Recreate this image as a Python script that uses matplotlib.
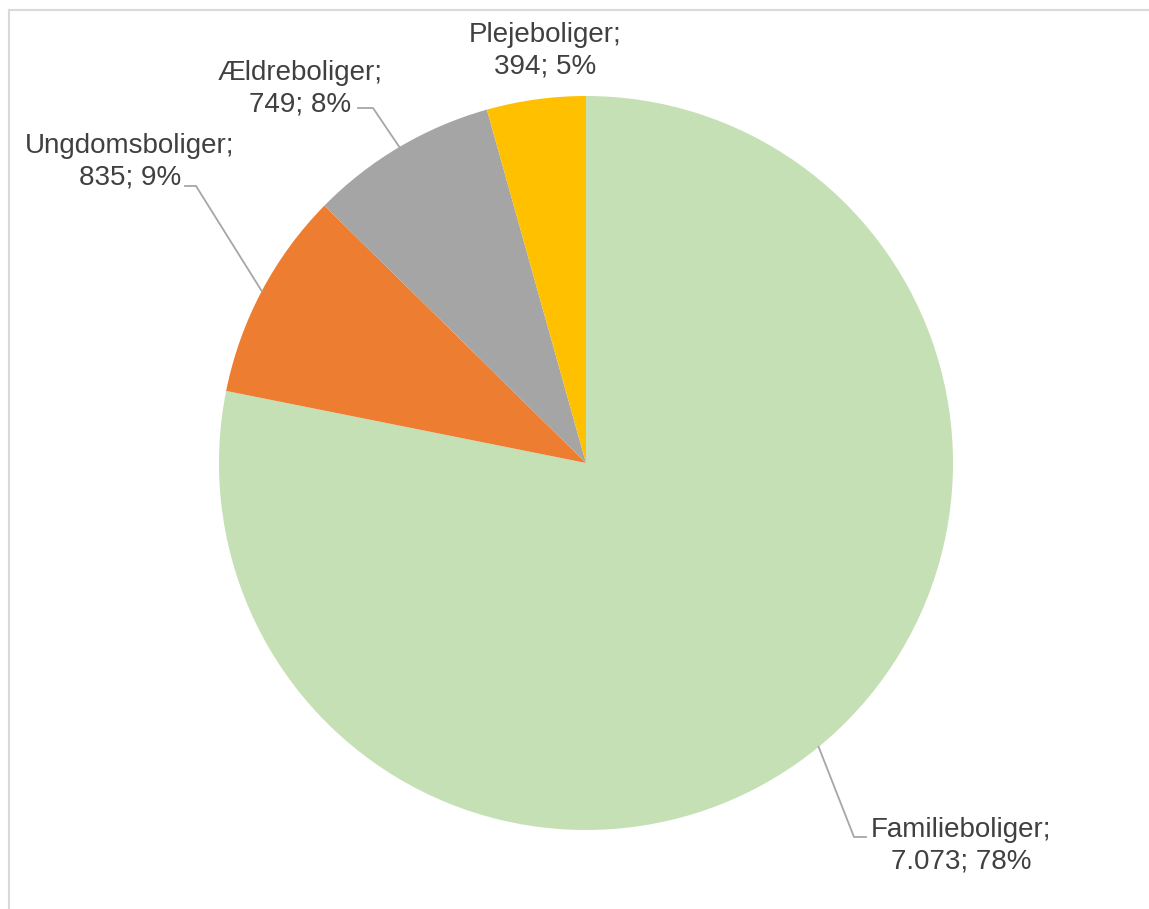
import numpy as np
import matplotlib
matplotlib.use("Agg")
import matplotlib.pyplot as plt
from matplotlib.lines import Line2D

# data
categories = ["Familieboliger", "Ungdomsboliger", "Ældreboliger", "Plejeboliger"]
values = [7073, 835, 749, 394]
value_labels = ["7.073", "835", "749", "394"]
percents = [78, 9, 8, 5]
colors = ["#C5E0B4", "#ED7D31", "#A5A5A5", "#FFC000"]

W, H = 1149, 909
plt.rcParams["font.family"] = ["Liberation Sans", "DejaVu Sans"]

fig = plt.figure(figsize=(W / 100, H / 100), dpi=100)
ax = fig.add_axes([0, 0, 1, 1])

cx, cy, r = 586, H - 463, 367
wedges, _ = ax.pie(values, colors=colors, startangle=90, counterclock=False,
                   center=(cx, cy), radius=r, frame=True,
                   wedgeprops=dict(linewidth=0))
ax.set_xlim(0, W)
ax.set_ylim(0, H)
ax.set_aspect("equal")
ax.axis("off")

# label block centres (pixels from top) and leader elbows
label_pos = [(961, 846), (130, 162), (300, 89), (545, 51)]
elbows = [[(866, 837), (854, 837)], [(185, 186), (196, 186)],
          [(358, 108), (373, 108)], None]

for w, name, vl, pct, (lx, ly), elb in zip(wedges, categories, value_labels,
                                           percents, label_pos, elbows):
    ax.text(lx, H - ly, f"{name};\n{vl}; {pct}%", ha="center", va="center",
            fontsize=20, color="#404040", linespacing=1.27)
    if elb is not None:
        mid = np.deg2rad((w.theta1 + w.theta2) / 2)
        px, py = cx + r * np.cos(mid), cy + r * np.sin(mid)
        xs = [elb[0][0], elb[1][0], px]
        ys = [H - elb[0][1], H - elb[1][1], py]
        ax.plot(xs, ys, color="#A6A6A6", lw=1.3)

# chart area border
fig.add_artist(Line2D([9 / W, 9 / W], [0, 1 - 10 / H], color="#D9D9D9", lw=1.5))
fig.add_artist(Line2D([9 / W, 1], [1 - 10 / H, 1 - 10 / H], color="#D9D9D9", lw=1.5))

fig.savefig("out.png", dpi=100, facecolor="white")
